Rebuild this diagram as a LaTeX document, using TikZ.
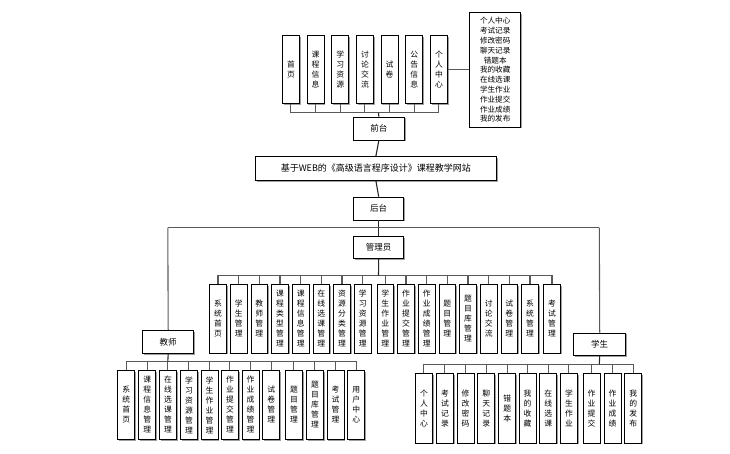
\documentclass[tikz,border=0pt]{standalone}
\usepackage{fontspec}
\setmainfont{Noto Sans CJK SC}
\usetikzlibrary{shadows}
\begin{document}
\begin{tikzpicture}[x=1pt,y=-1pt,
  box/.style={draw=black,line width=0.8pt,fill=white,inner sep=0pt,
    drop shadow={shadow xshift=1.3pt,shadow yshift=-1.3pt,fill=gray!75,opacity=1},
    font=\fontsize{7.8}{10}\selectfont,align=center},
  conn/.style={draw=gray!70!black,line width=1.1pt},
  pconn/.style={draw=black!85,line width=1.1pt}]
\useasboundingbox (0,0) rectangle (730,454);
% top row
\foreach \x/\t [count=\i] in {282/{首\\页},306.7/{课\\程\\信\\息},331.3/{学\\习\\资\\源},356/{讨\\论\\交\\流},380.7/{试\\卷},405.3/{公\\告\\信\\息},430/{个\\人\\中\\心}}
  \node[box,anchor=north west,minimum width=17pt,minimum height=68.5pt] (t\i) at (\x,35) {\t};
\node[box,anchor=north west,minimum width=51pt,minimum height=114.5pt,font=\fontsize{7.6}{9.8}\selectfont] (pc) at (469.3,12.3)
  {个人中心\\考试记录\\修改密码\\聊天记录\\错题本\\我的收藏\\在线选课\\学生作业\\作业提交\\作业成绩\\我的发布};
\node[box,anchor=north west,minimum width=51.5pt,minimum height=23pt,font=\fontsize{8.5}{10}\selectfont] (qt) at (352.7,116.7) {前台};
\node[box,anchor=north west,minimum width=241pt,minimum height=24pt,font=\fontsize{9}{10}\selectfont] (main) at (255,156) {基于WEB的《高级语言程序设计》课程教学网站};
\node[box,anchor=north west,minimum width=50pt,minimum height=23pt,font=\fontsize{8.5}{10}\selectfont] (ht) at (353.3,196.7) {后台};
\node[box,anchor=north west,minimum width=50pt,minimum height=22.3pt,font=\fontsize{8.5}{10}\selectfont] (adm) at (353.3,236) {管理员};
\node[box,anchor=north west,minimum width=51pt,minimum height=23.3pt,font=\fontsize{8.5}{10}\selectfont] (tea) at (142.3,330) {教师};
\node[box,anchor=north west,minimum width=52pt,minimum height=22.3pt,font=\fontsize{8.5}{10}\selectfont] (stu) at (573.3,332.7) {学生};
% admin row
\foreach \x/\t [count=\i] in {209.3/{系\\统\\首\\页},230/{学\\生\\管\\理},250.7/{教\\师\\管\\理},271.3/{课\\程\\类\\型\\管\\理},292/{课\\程\\信\\息\\管\\理},312.7/{在\\线\\选\\课\\管\\理},333.3/{资\\源\\分\\类\\管\\理},354/{学\\习\\资\\源\\管\\理},376.7/{学\\生\\作\\业\\管\\理},397.3/{作\\业\\提\\交\\管\\理},418/{作\\业\\成\\绩\\管\\理},438.7/{题\\目\\管\\理},459.3/{题\\目\\库\\管\\理},480/{讨\\论\\交\\流},500.7/{试\\卷\\管\\理},521.3/{系\\统\\管\\理},543.3/{考\\试\\管\\理}}
  \node[box,anchor=north west,minimum width=16.5pt,minimum height=68.5pt] (a\i) at (\x,284) {\t};
% teacher row
\foreach \x/\t [count=\i] in {117.3/{系\\统\\首\\页},138.3/{课\\程\\信\\息\\管\\理},159/{在\\线\\选\\课\\管\\理},180/{学\\习\\资\\源\\管\\理},200.7/{学\\生\\作\\业\\管\\理},221/{作\\业\\提\\交\\管\\理},241.7/{作\\业\\成\\绩\\管\\理},262.3/{试\\卷\\管\\理},285/{题\\目\\管\\理},306/{题\\目\\库\\管\\理},326.7/{考\\试\\管\\理},347.3/{用\\户\\中\\心}}
  \node[box,anchor=north west,minimum width=17pt,minimum height=69pt] (e\i) at (\x,370) {\t};
% student row
\foreach \x/\t [count=\i] in {415/{个\\人\\中\\心},436/{考\\试\\记\\录},456.7/{修\\改\\密\\码},477.3/{聊\\天\\记\\录},498.3/{错\\题\\本},518.7/{我\\的\\收\\藏},539.3/{在\\线\\选\\课},560/{学\\生\\作\\业},582.7/{作\\业\\提\\交},603.7/{作\\业\\成\\绩},624.3/{我\\的\\发\\布}}
  \node[box,anchor=north west,minimum width=17pt,minimum height=69.4pt] (s\i) at (\x,373.3) {\t};
% coordinates
\coordinate (fbus) at (378.5,112.7);
\coordinate (abus) at (378.5,275.7);
\coordinate (ebus) at (167.8,361.7);
\coordinate (sbus) at (599.3,364.3);
\coordinate (lft) at (167.8,227.7);
\coordinate (rgt) at (599.3,227.7);
% connectors
\foreach \i in {1,...,7} \draw[conn] (t\i.south) |- (fbus);
\draw[pconn] (fbus) -- (qt.north);
\draw[conn] (t7.east) -- (t7.east -| pc.west);
\draw[pconn] (qt.south) -- (main.north);
\draw[pconn] (main.south) -- (ht.north);
\draw[pconn] (ht.south) -- (adm.north);
\draw[conn] (lft) -- (rgt);
\draw[conn] (lft) -- (tea.north);
\draw[conn] (rgt) -- (stu.north);
\foreach \i in {1,...,17} \draw[conn] (a\i.north) |- (abus);
\draw[pconn] (abus) -- (adm.south);
\foreach \i in {1,...,12} \draw[conn] (e\i.north) |- (ebus);
\draw[pconn] (ebus) -- (tea.south);
\foreach \i in {1,...,11} \draw[conn] (s\i.north) |- (sbus);
\draw[pconn] (sbus) -- (stu.south);
\end{tikzpicture}
\end{document}
